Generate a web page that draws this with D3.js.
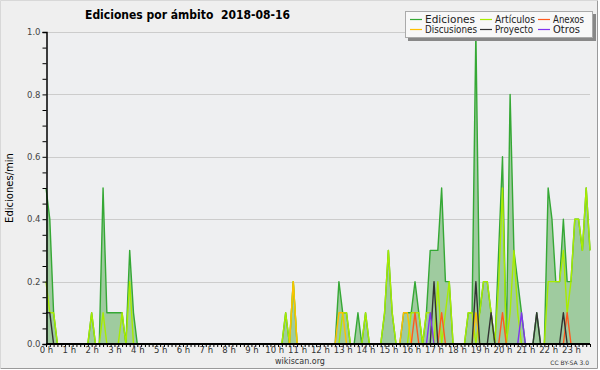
<!DOCTYPE html>
<html>
<head>
<meta charset="utf-8">
<script src="https://cdn.jsdelivr.net/npm/d3@7/dist/d3.min.js"></script>
<style>
body{margin:0;background:#fff}
text{font-family:"DejaVu Sans",sans-serif}
</style>
</head>
<body>
<div id="chart"></div>
<script>
// one value every 10 minutes, 0:00 .. 23:50 (edits per minute)
var hourLabels=["0 h","1 h","2 h","3 h","4 h","5 h","6 h","7 h","8 h","9 h","10 h","11 h",
  "12 h","13 h","14 h","15 h","16 h","17 h","18 h","19 h","20 h","21 h","22 h","23 h"];

var ediciones=[
  0.5,0.4,0.1,0,0,0, 0,0,0,0,0,0,
  0.1,0,0,0.5,0.1,0.1, 0.1,0.1,0.1,0,0.3,0.1,
  0,0,0,0,0,0, 0,0,0,0,0,0,
  0,0,0,0,0,0, 0,0,0,0,0,0,
  0,0,0,0,0,0, 0,0,0,0,0,0,
  0,0,0,0.1,0,0.2, 0,0,0,0,0,0,
  0,0,0,0,0,0.2, 0.1,0.1,0,0,0.1,0,
  0.1,0,0,0,0,0.1, 0.3,0.1,0,0,0.1,0.1,
  0.1,0.2,0.1,0,0.1,0.3, 0.3,0.3,0.5,0.2,0.2,0,
  0,0,0,0.1,0.1,1.0, 0.1,0.2,0.2,0.1,0,0.3,
  0.6,0,0.8,0.3,0.2,0.1, 0,0,0,0.1,0,0,
  0.5,0.4,0.2,0.2,0.4,0.2, 0.2,0.4,0.4,0.3,0.5,0.3];

var articulos=[
  0.2,0.1,0.1,0,0,0, 0,0,0,0,0,0,
  0.1,0,0,0.1,0,0, 0,0,0.1,0,0.2,0,
  0,0,0,0,0,0, 0,0,0,0,0,0,
  0,0,0,0,0,0, 0,0,0,0,0,0,
  0,0,0,0,0,0, 0,0,0,0,0,0,
  0,0,0,0.1,0,0.2, 0,0,0,0,0,0,
  0,0,0,0,0,0, 0.1,0.1,0,0,0,0,
  0.1,0,0,0,0,0.1, 0.3,0.1,0,0,0,0,
  0.1,0.1,0.1,0,0.1,0.1, 0,0.2,0,0.1,0.2,0,
  0,0,0,0.1,0.1,0, 0.1,0.2,0.2,0.1,0,0.2,
  0.5,0,0.1,0.3,0.1,0, 0,0,0,0,0,0,
  0.2,0.2,0.2,0.2,0.3,0.1, 0.2,0.4,0.4,0.3,0.5,0.3];

var discusiones=[
  0,0,0,0,0,0, 0,0,0,0,0,0,
  0,0,0,0,0,0, 0,0,0,0,0,0,
  0,0,0,0,0,0, 0,0,0,0,0,0,
  0,0,0,0,0,0, 0,0,0,0,0,0,
  0,0,0,0,0,0, 0,0,0,0,0,0,
  0,0,0,0,0,0.2, 0,0,0,0,0,0,
  0,0,0,0,0,0.1, 0.1,0,0,0,0,0,
  0,0,0,0,0,0, 0,0,0,0,0.1,0.1,
  0,0,0,0,0,0, 0,0,0,0,0,0,
  0,0,0,0,0,0.1, 0,0,0,0,0,0,
  0,0,0,0,0,0, 0,0,0,0,0,0,
  0,0,0,0,0,0, 0,0,0,0,0,0];

var anexos=[
  0,0,0,0,0,0, 0,0,0,0,0,0,
  0,0,0,0,0,0, 0,0,0,0,0,0,
  0,0,0,0,0,0, 0,0,0,0,0,0,
  0,0,0,0,0,0, 0,0,0,0,0,0,
  0,0,0,0,0,0, 0,0,0,0,0,0,
  0,0,0,0,0,0, 0,0,0,0,0,0,
  0,0,0,0,0,0, 0,0,0,0,0,0,
  0,0,0,0,0,0, 0,0,0,0,0,0,
  0,0.1,0,0,0,0, 0,0,0.1,0,0,0,
  0,0,0,0,0,0, 0,0,0,0,0,0,
  0.1,0,0,0,0,0, 0,0,0,0,0,0,
  0,0,0,0,0,0.1, 0,0,0,0,0,0];

var proyecto=[
  0.1,0.1,0,0,0,0, 0,0,0,0,0,0,
  0,0,0,0,0,0, 0,0,0,0,0,0,
  0,0,0,0,0,0, 0,0,0,0,0,0,
  0,0,0,0,0,0, 0,0,0,0,0,0,
  0,0,0,0,0,0, 0,0,0,0,0,0,
  0,0,0,0,0,0, 0,0,0,0,0,0,
  0,0,0,0,0,0, 0,0,0,0,0,0,
  0,0,0,0,0,0, 0,0,0,0,0,0,
  0,0,0,0,0,0, 0.2,0,0,0,0,0,
  0,0,0,0,0,0.2, 0,0,0,0.1,0,0,
  0,0,0,0,0,0, 0,0,0,0.1,0,0,
  0,0,0,0,0.1,0, 0,0,0,0,0,0];

var otros=[
  0,0,0,0,0,0, 0,0,0,0,0,0,
  0,0,0,0,0,0, 0,0,0,0,0,0,
  0,0,0,0,0,0, 0,0,0,0,0,0,
  0,0,0,0,0,0, 0,0,0,0,0,0,
  0,0,0,0,0,0, 0,0,0,0,0,0,
  0,0,0,0,0,0, 0,0,0,0,0,0,
  0,0,0,0,0,0, 0,0,0,0,0,0,
  0,0,0,0,0,0, 0,0,0,0,0,0,
  0,0,0,0,0,0.1, 0,0,0,0,0,0,
  0,0,0,0,0,0, 0,0,0,0,0,0,
  0,0,0,0,0,0.1, 0,0,0,0,0,0,
  0,0,0,0,0,0, 0,0,0,0,0,0];

var seriesNames=["Ediciones","Artículos","Discusiones","Anexos","Proyecto","Otros"];
var seriesColors=["#35a835","#a8ec00","#ffc000","#ff5a1e","#333333","#8034f0"];
var seriesData=[ediciones,articulos,discusiones,anexos,proyecto,otros];

var width=600,height=370;
var x=d3.scaleLinear().domain([0,143]).range([46,590]);
var y=d3.scaleLinear().domain([0,1]).range([344,32]);

var svg=d3.select("#chart").append("svg")
    .attr("width",width).attr("height",height);

// frame
svg.append("rect").attr("x",0).attr("y",0).attr("width",597).attr("height",368)
    .attr("fill","#efefef");
svg.append("path").attr("d","M0.5,368.5H597.5V0.5").attr("fill","none").attr("stroke","#9a9a9a");
svg.append("path").attr("d","M0.5,368V0.5H597").attr("fill","none").attr("stroke","#d8d8d8");

// plot background
svg.append("rect").attr("x",46).attr("y",32).attr("width",544).attr("height",312)
    .attr("fill","#eeeff1");

// grid
svg.append("g").selectAll("line").data([0.2,0.4,0.6,0.8,1.0]).enter().append("line")
    .attr("x1",46).attr("x2",590)
    .attr("y1",d=>Math.round(y(d))+0.5).attr("y2",d=>Math.round(y(d))+0.5)
    .attr("stroke","#cccccc");

var idx=d3.range(ediciones.length);

var area=d3.area()
    .x(i=>x(i)).y0(y(0)).y1(i=>y(ediciones[i]));
svg.append("path").datum(idx).attr("d",area)
    .attr("fill","#9fcb9f");

seriesData.forEach(function(s,k){
  var line=d3.line().x(i=>x(i)).y(i=>y(s[i]));
  svg.append("path").datum(idx).attr("d",line)
     .attr("fill","none").attr("stroke",seriesColors[k])
     .attr("stroke-width",1.4).attr("stroke-linejoin","round");
});

// axes
var xAxis=d3.axisBottom(x).tickValues(idx).tickSize(3).tickPadding(0)
    .tickFormat(i=>i%6===0?hourLabels[i/6]:"");
var gx=svg.append("g").attr("transform","translate(0,344)").call(xAxis);
gx.select(".domain").attr("stroke","#000").attr("stroke-width",2).attr("d","M46,0H590");
gx.selectAll(".tick line").attr("stroke","#000");
gx.selectAll("text").attr("font-size","8.5px").attr("fill","#333")
    .attr("font-family","DejaVu Sans");

var yAxis=d3.axisLeft(y).tickValues(d3.range(0,1.0001,0.05)).tickSize(4).tickPadding(2)
    .tickFormat(d=>Math.abs(d*5-Math.round(d*5))<1e-6?d3.format(".1f")(d):"");
var gy=svg.append("g").attr("transform","translate(46.5,0)").call(yAxis);
gy.select(".domain").attr("stroke","#000").attr("stroke-width",1.5);
gy.selectAll(".tick line").attr("stroke","#000");
gy.selectAll("text").attr("font-size","8.5px").attr("fill","#444")
    .attr("font-family","DejaVu Sans");

// titles
svg.append("text").attr("x",85).attr("y",18.5)
    .attr("font-size","13px").attr("font-weight","bold").attr("fill","#000")
    .attr("textLength",205).attr("lengthAdjust","spacingAndGlyphs")
    .style("white-space","pre")
    .text("Ediciones por ámbito  2018-08-16");

svg.append("text").attr("transform","translate(13,188) rotate(-90)")
    .attr("text-anchor","middle").attr("font-size","10px")
    .attr("font-family","DejaVu Sans Mono").attr("fill","#000")
    .text("Ediciones/min");

svg.append("text").attr("x",300).attr("y",364).attr("text-anchor","middle")
    .attr("font-size","8px").attr("fill","#333").text("wikiscan.org");
svg.append("text").attr("x",589).attr("y",365).attr("text-anchor","end")
    .attr("font-size","6px").attr("fill","#333").text("CC BY-SA 3.0");

// legend
var legendOrder=[0,1,3,2,4,5];
var legendWidths=[50,40,31,52,38,27];
var lg=svg.append("g");
lg.append("rect").attr("x",408).attr("y",14).attr("width",188).attr("height",27).attr("fill","#888");
lg.append("rect").attr("x",405.5).attr("y",11.5).attr("width",187).attr("height",26)
    .attr("fill","#f8f8f8").attr("stroke","#aaa");
var colX=[410,480,538],rowY=[19.5,29.5];
legendOrder.forEach(function(k,n){
  var cx=colX[n%3],cy=rowY[Math.floor(n/3)];
  lg.append("line").attr("x1",cx).attr("x2",cx+12).attr("y1",cy).attr("y2",cy)
    .attr("stroke",seriesColors[k]).attr("stroke-width",1.2);
  lg.append("text").attr("x",cx+15).attr("y",cy+3.5).attr("font-size","10px")
    .attr("fill","#222")
    .attr("textLength",legendWidths[n]).attr("lengthAdjust","spacingAndGlyphs")
    .text(seriesNames[k]);
});
</script>
</body>
</html>
